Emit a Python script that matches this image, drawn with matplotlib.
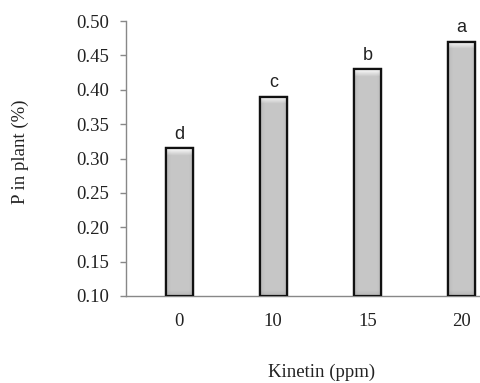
import numpy as np
import matplotlib
matplotlib.use("Agg")
import matplotlib.pyplot as plt

# Data
kinetin = ["0", "10", "15", "20"]
p_in_plant = [0.315, 0.39, 0.43, 0.47]
letters = ["d", "c", "b", "a"]
yticks = [0.10, 0.15, 0.20, 0.25, 0.30, 0.35, 0.40, 0.45, 0.50]

W, H = 480, 383
fig = plt.figure(figsize=(W / 100, H / 100), dpi=100)

# axes placed in pixel coordinates (left, bottom, width, height)
ax_left, ax_right, ax_top, ax_bottom = 126, 480, 21, 296
ax = fig.add_axes([ax_left / W, 1 - ax_bottom / H,
                   (ax_right - ax_left) / W, (ax_bottom - ax_top) / H])

x = np.arange(len(kinetin))
bar_w = 0.29
ybase = 0.10
bars = ax.bar(x, np.array(p_in_plant) - ybase, bottom=ybase, width=bar_w,
              facecolor="#c6c6c6", edgecolor="#111111", linewidth=1.6, zorder=3)

ax.set_xlim(-0.565, 3.197)
ax.set_ylim(0.10, 0.50)

# bevelled shading inside each bar
fig.canvas.draw()
px_per_unit = (ax_bottom - ax_top) / 0.40
for b in bars:
    x0, y0 = b.get_x(), b.get_y()
    w, h = b.get_width(), b.get_height()
    hp = h * px_per_unit
    n = max(int(hp), 2)
    rows = np.linspace(0, hp, n)  # pixel distance from top
    col = np.full((n, 30), 0.78)
    top = np.clip(1 - rows / 7.0, 0, 1)
    col = col + (0.99 - 0.78) * top[:, None]
    bot = np.clip(1 - (hp - rows) / 6.0, 0, 1)
    col = col - 0.06 * bot[:, None]
    xs = np.linspace(0, 1, 30)
    side = np.clip(1 - np.minimum(xs, 1 - xs) / 0.18, 0, 1)
    col = col - 0.05 * side[None, :]
    img = ax.imshow(np.dstack([col, col, col]), extent=(x0, x0 + w, y0, y0 + h),
                    origin="upper", aspect="auto", zorder=3.5,
                    interpolation="bilinear")
    img.set_clip_path(b)
    ax.bar(b.get_x() + w / 2, h, bottom=y0, width=w, facecolor="none",
           edgecolor="#111111", linewidth=1.6, zorder=4)

for xi, v, lab in zip(x, p_in_plant, letters):
    ax.annotate(lab, (xi, v), xytext=(0, 4), textcoords="offset points",
                ha="center", va="bottom", fontsize=13,
                family="Liberation Sans", color="#222222",
                annotation_clip=False)

ax.set_xticks(x)
ax.set_xticklabels(kinetin)
ax.set_yticks(yticks)
ax.set_yticklabels([f"{t:.2f}" for t in yticks])

for s in ["top", "right"]:
    ax.spines[s].set_visible(False)
for s in ["left", "bottom"]:
    ax.spines[s].set_color("#888888")
    ax.spines[s].set_linewidth(1.0)

ax.tick_params(axis="x", length=0, pad=12, labelsize=13.5)
ax.tick_params(axis="y", length=4, width=1.0, color="#888888", pad=8, labelsize=13.5)
for lab in ax.get_xticklabels() + ax.get_yticklabels():
    lab.set_family("Liberation Serif")
    lab.set_color("#222222")

fig.text(20 / W, 1 - 152 / H, "P in plant (%)", rotation=90, ha="center",
         va="center", fontsize=13.5, family="Liberation Serif", color="#222222")
fig.text(322 / W, 1 - 372 / H, "Kinetin (ppm)", ha="center", va="center",
         fontsize=13.5, family="Liberation Serif", color="#222222")

fig.savefig("out.png", dpi=100)
